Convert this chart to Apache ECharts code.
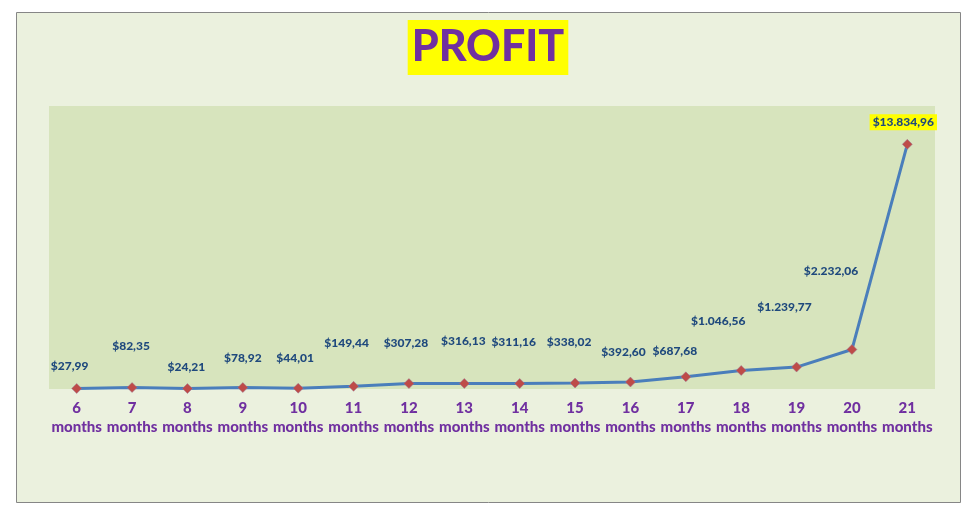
<!DOCTYPE html>
<html>
<head>
<meta charset="utf-8">
<script src="https://cdn.jsdelivr.net/npm/echarts@6/dist/echarts.min.js"></script>
<style>
  html, body { margin: 0; padding: 0; background: #ffffff; }
  #main { width: 976px; height: 521px; }
</style>
</head>
<body>
<div id="main"></div>
<script>
// months since start
const months = ['6', '7', '8', '9', '10', '11', '12', '13', '14', '15', '16', '17', '18', '19', '20', '21'];
// profit per month
const profit = [27.99, 82.35, 24.21, 78.92, 44.01, 149.44, 307.28, 316.13, 311.16, 338.02, 392.60, 687.68, 1046.56, 1239.77, 2232.06, 13834.96];

// label nudges (x, y) to mimic the hand placed labels
const labelNudge = [
  [-7, -22], [-1, -41], [-1, -21], [0, -29], [-3, -30], [-7, -43], [-3, -40], [-1, -42],
  [-6, -41], [-6, -41], [-7, -30], [-11, -26], [-23, -49], [-12, -60], [-21, -78], [-4, -22]
];

function money(v) {
  const parts = v.toFixed(2).split('.');
  const whole = parts[0].replace(/\B(?=(\d{3})+(?!\d))/g, '.');
  return '$' + whole + ',' + parts[1];
}

const chart = echarts.init(document.getElementById('main'));

const last = profit.length - 1;

const option = {
  backgroundColor: '#ffffff',
  animation: false,
  graphic: [{
    type: 'rect',
    z: -100,
    silent: true,
    shape: { x: 16.5, y: 12.5, width: 944, height: 490 },
    style: { fill: '#EBF1DE', stroke: '#868686', lineWidth: 1 }
  }],
  title: {
    text: 'PROFIT',
    left: 'center',
    top: 20,
    padding: [5, 4],
    backgroundColor: '#FFFF00',
    textStyle: {
      fontFamily: 'Lato',
      fontWeight: 900,
      fontSize: 43,
      lineHeight: 45,
      color: '#7030A0'
    }
  },
  grid: {
    left: 49,
    right: 41,
    top: 106,
    bottom: 132,
    show: true,
    backgroundColor: '#D7E4BD',
    borderWidth: 0
  },
  xAxis: {
    type: 'category',
    data: months,
    boundaryGap: true,
    axisLine: { show: false },
    axisTick: { show: false },
    axisLabel: {
      margin: 10,
      interval: 0,
      formatter: '{value}\nmonths',
      fontFamily: 'Lato',
      fontWeight: 900,
      fontSize: 15,
      lineHeight: 19,
      color: '#7030A0'
    }
  },
  yAxis: {
    type: 'value',
    min: 0,
    max: 16000,
    show: false,
    splitLine: { show: false }
  },
  series: [{
    type: 'line',
    data: profit.map((v, i) => ({
      value: v,
      label: {
        offset: labelNudge[i],
        backgroundColor: i === last ? '#FFFF00' : 'transparent',
        padding: i === last ? [2, 3] : 0
      }
    })),
    symbol: 'diamond',
    symbolSize: 10,
    lineStyle: { color: '#4A7EBB', width: 3 },
    itemStyle: { color: '#BE4B48', borderColor: '#9C7A9A', borderWidth: 0.5 },
    label: {
      show: true,
      position: 'inside',
      formatter: p => money(p.value),
      fontFamily: 'Lato',
      fontWeight: 900,
      fontSize: 12,
      color: '#1F497D'
    }
  }]
};

chart.setOption(option);
</script>
</body>
</html>
